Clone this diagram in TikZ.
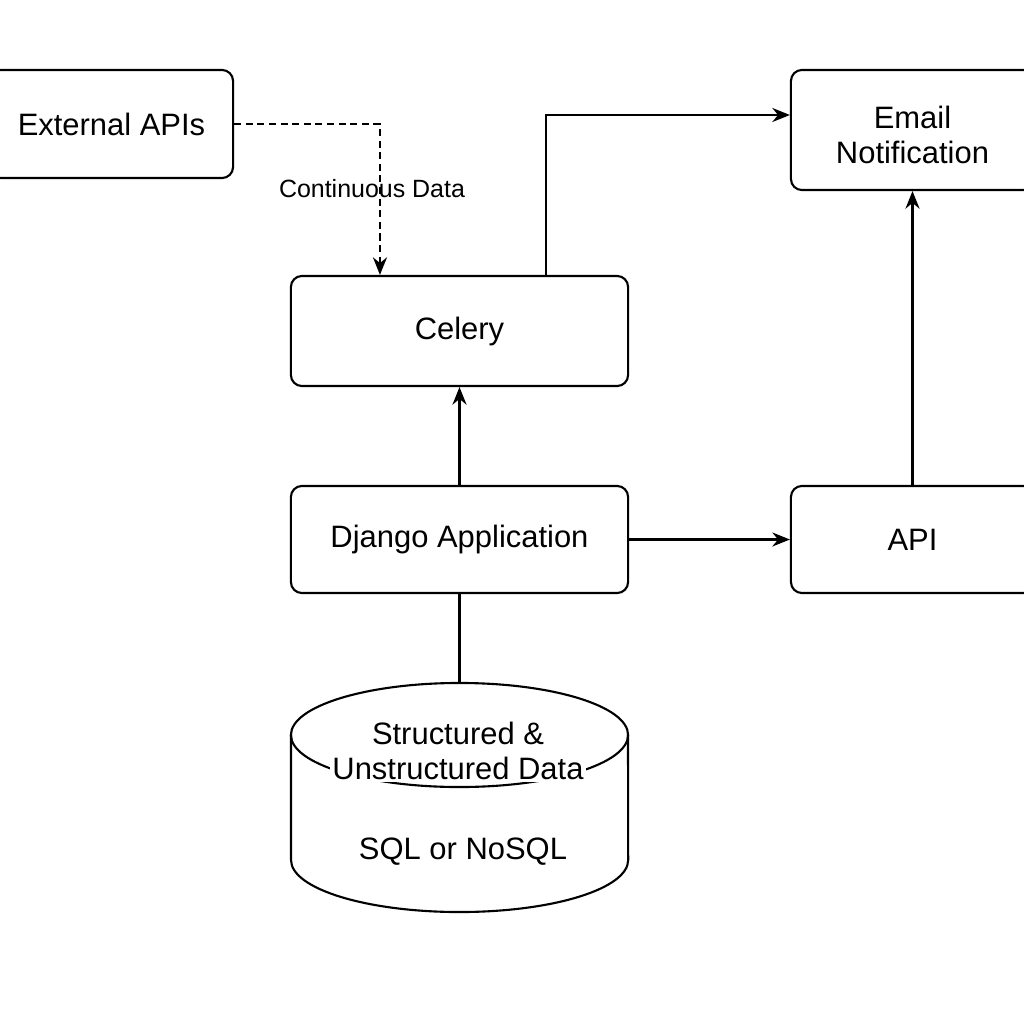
\documentclass[tikz,border=0pt]{standalone}
\usepackage{fontspec}
\setmainfont{Liberation Sans}
\usetikzlibrary{positioning, arrows.meta}

\begin{document}
\begin{tikzpicture}[x=0.01cm, y=-0.01cm,
    line width=0.6pt,
    font=\fontsize{8.8}{9.8}\selectfont,
    box/.style={draw, rounded corners=0.11cm, align=center, inner sep=0pt},
    arr/.style={-{Stealth[length=5pt, width=4pt]}},
    dashline/.style={dash pattern=on 2pt off 1.3pt}]
        \useasboundingbox (0,0) rectangle (1024,1024);
        \node[box, minimum width=2.43cm, minimum height=1.08cm] (ext) at (111.5,124) {External APIs};
        \node[box, minimum width=2.43cm, minimum height=1.2cm, text height=0.66cm, text depth=0pt] (email) at (912.5,130) {Email\\Notification};
        \node[box, minimum width=3.37cm, minimum height=1.1cm] (celery) at (459.5,331) {Celery};
        \node[box, minimum width=3.37cm, minimum height=1.07cm] (django) at (459.5,539.5) {Django Application};
        \node[box, minimum width=2.43cm, minimum height=1.07cm] (api) at (912.5,539.5) {API};
        % database cylinder
        \coordinate (dbtop) at (459.5,683);
        \draw (291,735) -- (291,860) arc[start angle=180, end angle=360, x radius=1.685cm, y radius=0.52cm] -- (628,735);
        \draw (459.5,735) ellipse[x radius=1.685cm, y radius=0.52cm];
        \node[fill=white, align=center, inner sep=0.6pt] (dbtext) at (458,751) {Structured \&\\Unstructured Data};
        \node (dbtype) at (463,852) {SQL or NoSQL};
        % connectors
        \draw[arr, dashline] (ext.east) -| ([xshift=-0.795cm]celery.north);
        \node[font=\fontsize{7.1}{8}\selectfont] (cont) at (372,189) {Continuous Data};
        \draw[arr] ([xshift=0.865cm]celery.north) |- ([yshift=0.15cm]email.west);
        \draw[arr] (django) -- (celery);
        \draw[arr] (django) -- (api);
        \draw[arr] (api) -- (email);
        \draw (django) -- (dbtop);
      \end{tikzpicture}
\end{document}
